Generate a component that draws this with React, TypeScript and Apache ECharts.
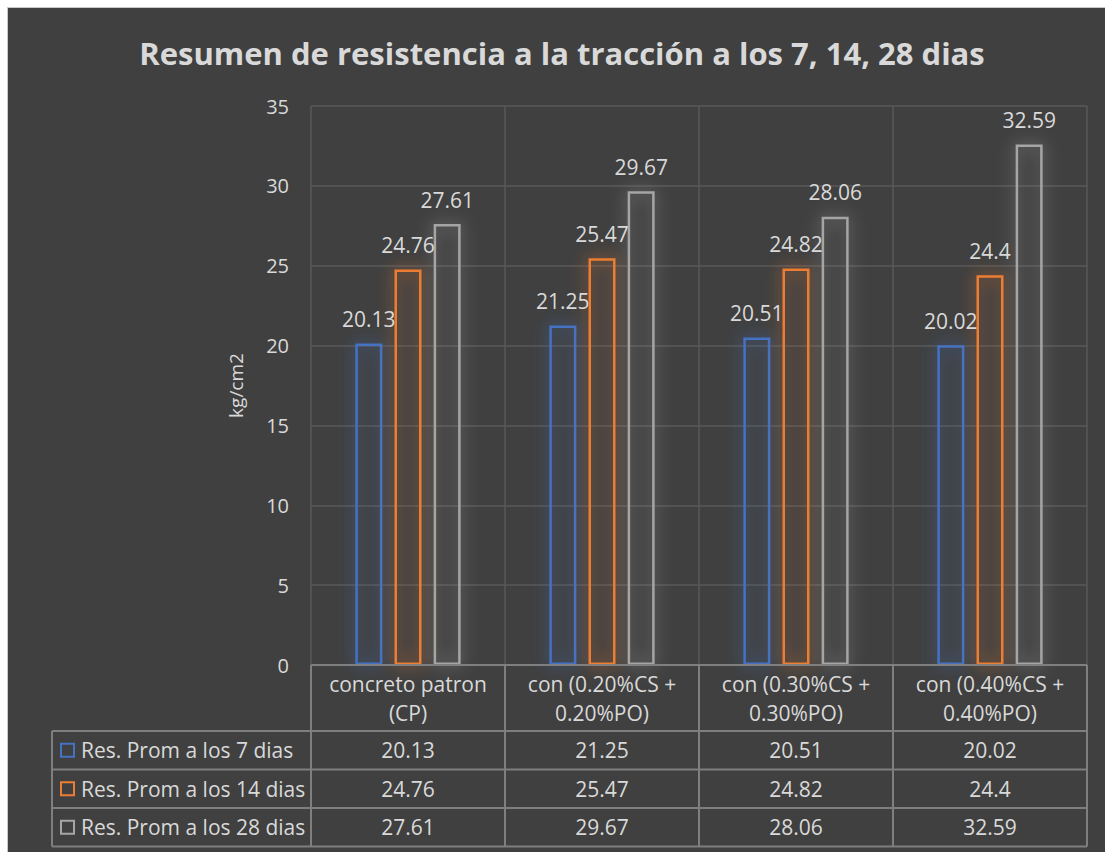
import React, { useEffect, useRef } from "react";
import * as echarts from "echarts";

const titleText = "Resumen de resistencia a la tracción a los 7, 14, 28 dias";
const categories = [
  "concreto patron\n(CP)",
  "con (0.20%CS +\n0.20%PO)",
  "con (0.30%CS +\n0.30%PO)",
  "con (0.40%CS +\n0.40%PO)",
];
const seriesNames = [
  "Res. Prom a los 7 dias",
  "Res. Prom a los 14 dias",
  "Res. Prom a los 28 dias",
];
const days7 = [20.13, 21.25, 20.51, 20.02];
const days14 = [24.76, 25.47, 24.82, 24.4];
const days28 = [27.61, 29.67, 28.06, 32.59];
const seriesData = [days7, days14, days28];
const colors = ["#4472C4", "#ED7D31", "#A5A5A5"];
const yTicks = { min: 0, max: 35, interval: 5 };
const yName = "kg/cm2";

const FONT = "'Open Sans'";
const TXT = "#d9d9d9";
const BG = "#404040";
const TABLE_LINE = "#7f7f7f";

export default function App() {
  const ref = useRef<HTMLDivElement>(null);
  useEffect(() => {
    const chart = echarts.init(ref.current!, null, { renderer: "svg" });
    const gridLeft = 311;
    const gridRight = 1087;
    const gridTop = 106;
    const gridBottom = 665;
    const headerBottom = 731;
    const rowH = 38.5;
    const tableLeft = 52;
    const colW = (gridRight - gridLeft) / categories.length;

    const graphics: any[] = [];
    graphics.push({
      type: "rect",
      shape: { x: 7.5, y: 7.5, width: 1110, height: 860 },
      style: { fill: BG, stroke: "#c8c8c8", lineWidth: 1 },
      z: -10,
    });
    const lines: number[][] = [];
    lines.push([gridLeft, gridBottom, gridRight, gridBottom]);
    for (let r = 0; r <= seriesNames.length; r++) {
      const y = headerBottom + r * rowH;
      lines.push([tableLeft, y, gridRight, y]);
    }
    const tableBottom = headerBottom + seriesNames.length * rowH;
    lines.push([tableLeft, headerBottom, tableLeft, tableBottom]);
    for (let c = 0; c <= categories.length; c++) {
      const x = gridLeft + c * colW;
      lines.push([x, gridBottom, x, tableBottom]);
    }
    lines.forEach((l) =>
      graphics.push({
        type: "line",
        shape: { x1: l[0], y1: l[1], x2: l[2], y2: l[3] },
        style: { stroke: TABLE_LINE, lineWidth: 2 },
        z: 10,
      })
    );
    seriesNames.forEach((name, r) => {
      const cy = headerBottom + r * rowH + rowH / 2;
      graphics.push({
        type: "rect",
        shape: { x: 61, y: cy - 6.5, width: 13, height: 13 },
        style: { fill: "transparent", stroke: colors[r], lineWidth: 2 },
        z: 10,
      });
      graphics.push({
        type: "text",
        x: 81,
        y: cy,
        style: {
          text: name,
          fill: TXT,
          font: `21px ${FONT}`,
          verticalAlign: "middle",
        },
        z: 10,
      });
      seriesData[r].forEach((v, c) => {
        graphics.push({
          type: "text",
          x: gridLeft + c * colW + colW / 2,
          y: cy,
          style: {
            text: String(v),
            fill: TXT,
            font: `21px ${FONT}`,
            align: "center",
            verticalAlign: "middle",
          },
          z: 10,
        });
      });
    });

    chart.setOption({
      animation: false,
      backgroundColor: "transparent",
      title: {
        text: titleText,
        left: 557,
        top: 32,
        textAlign: "center",
        textStyle: { color: TXT, fontFamily: FONT, fontWeight: "bold", fontSize: 31 },
      },
      grid: { left: gridLeft, right: 1105 - gridRight, top: gridTop, bottom: 852 - gridBottom },
      xAxis: {
        type: "category",
        data: categories,
        axisLine: { show: false },
        axisTick: { show: false },
        splitLine: { show: true, interval: 0, lineStyle: { color: "#595959", width: 1.5 } },
        axisLabel: {
          color: TXT,
          fontFamily: FONT,
          fontSize: 21,
          lineHeight: 29,
          margin: 4,
          interval: 0,
          align: "center",
        },
      },
      yAxis: {
        type: "value",
        min: yTicks.min,
        max: yTicks.max,
        interval: yTicks.interval,
        name: yName,
        nameLocation: "middle",
        nameGap: 66,
        nameRotate: 90,
        nameTextStyle: { color: TXT, fontFamily: FONT, fontSize: 19 },
        axisLine: { show: false },
        axisTick: { show: false },
        axisLabel: { color: TXT, fontFamily: FONT, fontSize: 20, margin: 22 },
        splitLine: { lineStyle: { color: "#595959", width: 1.5 } },
      },
      series: seriesNames.map((name, i) => ({
        type: "bar",
        name,
        data: seriesData[i],
        barWidth: 27,
        barGap: "45%",
        itemStyle: {
          color: "rgba(0,0,0,0)",
          borderColor: colors[i],
          borderWidth: 2.5,
          shadowBlur: 16,
          shadowColor: colors[i],
        },
        label: {
          show: true,
          position: "top",
          distance: 14,
          color: TXT,
          fontFamily: FONT,
          fontSize: 21,
        },
      })),
      graphic: graphics,
    });
    return () => chart.dispose();
  }, []);
  return (
    <div
      ref={ref}
      style={{ position: "absolute", left: 0, top: 0, width: 1105, height: 852, background: "#ffffff" }}
    />
  );
}
